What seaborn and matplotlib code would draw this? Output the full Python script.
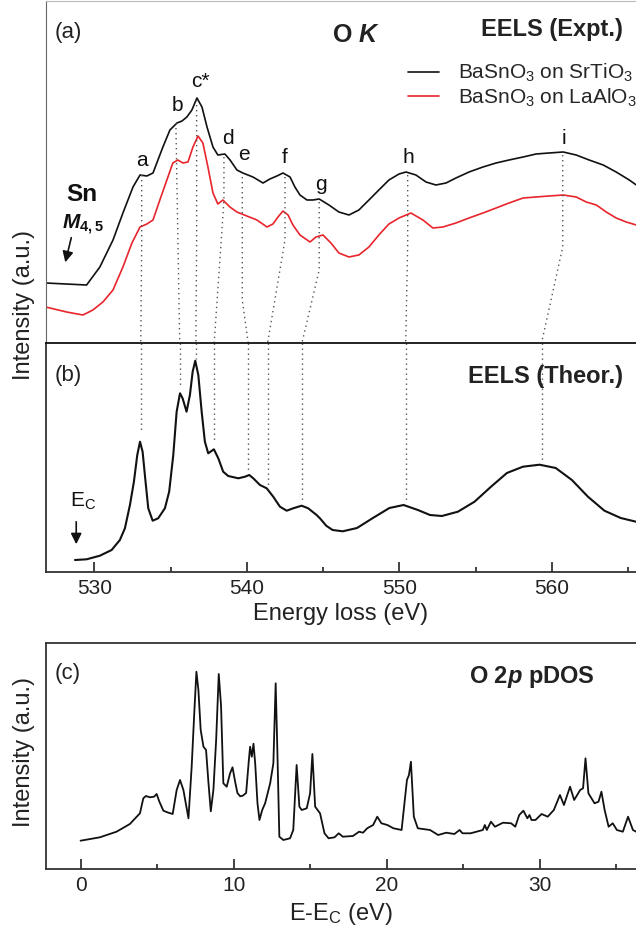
import matplotlib
matplotlib.use("Agg")
import matplotlib.pyplot as plt
import seaborn as sns

# ---- experimental O K edge (panel a), energy loss in eV vs. intensity (a.u.)
expt_E = [526.82, 528.15, 529.50, 530.37, 531.23, 531.88, 532.54, 533.0, 533.45, 533.85,
          534.5, 534.96, 535.42, 535.75, 536.07, 536.4, 536.73, 537.06, 537.39, 537.78,
          538.1, 538.56, 538.9, 539.35, 539.74, 540.4, 541.06, 541.51, 541.97, 542.37,
          542.83, 543.15, 543.48, 543.94, 544.33, 544.74, 545.38, 546.03, 546.69, 547.34,
          548.0, 548.65, 549.31, 549.97, 550.43, 551.08, 551.74, 552.39, 553.05, 553.7,
          554.56, 555.47, 556.33, 557.18, 558.1, 558.95, 559.8, 560.73, 561.58, 562.43,
          563.35, 564.2, 565.06, 565.52]
sto_I = [60, 59, 58, 76, 103, 130, 156, 168, 167, 170,
         196, 213, 220, 222, 226, 233, 245, 236, 216, 196,
         188, 189, 183, 173, 170, 166, 160, 164, 167, 170,
         166, 156, 148, 143, 143, 144, 138, 131, 128, 133,
         143, 153, 163, 169, 171, 168, 161, 158, 160, 165,
         171, 176, 180, 183, 186, 189, 190, 191, 188, 183,
         178, 171, 163, 158]

lao_E = [526.82, 528.19, 529.26, 529.91, 530.57, 531.23, 531.88, 532.47, 533.0, 533.45,
         533.85, 534.3, 534.76, 535.15, 535.48, 535.81, 536.14, 536.47, 536.8, 537.12,
         537.45, 537.78, 538.1, 538.43, 538.89, 539.35, 540.0, 540.66, 541.32, 541.71,
         542.04, 542.37, 542.7, 543.02, 543.48, 544.14, 544.53, 544.99, 545.51, 546.03,
         546.69, 547.34, 548.0, 548.65, 549.31, 549.97, 550.75, 551.54, 552.19, 552.85,
         553.7, 554.56, 555.47, 556.33, 557.18, 558.1, 558.95, 559.8, 560.73, 561.58,
         562.24, 562.9, 563.55, 564.2, 564.86, 565.52]
lao_I = [36, 31, 28, 33, 41, 53, 76, 100, 116, 119,
         123, 143, 163, 180, 183, 180, 181, 196, 207, 200,
         176, 150, 139, 143, 136, 131, 127, 123, 116, 119,
         126, 132, 128, 118, 108, 101, 106, 108, 100, 90,
         86, 88, 96, 108, 119, 125, 130, 123, 115, 116,
         120, 125, 130, 135, 140, 145, 146, 147, 148, 146,
         141, 138, 131, 125, 121, 118]

# ---- calculated EELS (panel b)
theo_E = [528.74, 529.5, 530.37, 531.14, 531.68, 532.01, 532.34, 532.6, 532.82, 533.0,
          533.17, 533.34, 533.54, 533.83, 534.19, 534.63, 534.91, 535.18, 535.4, 535.62,
          535.79, 536.05, 536.27, 536.45, 536.62, 536.82, 537.04, 537.25, 537.47, 537.84,
          538.13, 538.45, 538.78, 539.44, 539.88, 540.16, 540.42, 540.86, 541.3, 541.73,
          542.17, 542.61, 543.04, 543.59, 544.02, 544.57, 544.79, 545.2, 545.62, 546.28,
          547.22, 548.26, 549.34, 550.27, 551.21, 552.0, 552.78, 553.83, 554.92, 556.0,
          557.04, 558.09, 559.18, 560.24, 561.3, 562.35, 563.43, 564.5, 565.5]
theo_I = [11.7, 12.4, 16, 21.7, 31.7, 43.4, 66.7, 90, 116.7, 130,
          120, 93.4, 63.4, 51, 53.4, 63.4, 80, 116.7, 160, 178.4,
          173.4, 160, 176.7, 200, 211, 196.7, 160, 130, 118.4, 122.4,
          113.4, 100, 95.7, 93.4, 95, 96.7, 93.4, 86.7, 83.4, 75,
          65, 61, 63.4, 66, 63.4, 56.7, 53.4, 46, 41.7, 40.4,
          43.7, 53.7, 63.7, 66.7, 61.7, 56.7, 55.7, 60, 70, 85,
          98.7, 105, 107, 103.7, 91.7, 75, 61, 53.7, 50]

# ---- O 2p pDOS (panel c), E - E_C in eV
dos_E = [0.0, 1.26, 2.35, 3.22, 3.88, 4.1, 4.27, 4.53, 4.8, 4.97,
         5.15, 5.41, 5.74, 6.02, 6.28, 6.5, 6.72, 7.05, 7.26, 7.44,
         7.57, 7.7, 7.85, 8.03, 8.2, 8.36, 8.51, 8.68, 8.86, 9.03,
         9.18, 9.33, 9.55, 9.77, 9.93, 10.1, 10.25, 10.43, 10.6, 10.82,
         11.0, 11.08, 11.19, 11.3, 11.41, 11.56, 11.69, 11.87, 12.06, 12.39,
         12.6, 12.75, 12.86, 12.99, 13.25, 13.69, 13.9, 14.12, 14.3, 14.45,
         14.78, 15.0, 15.15, 15.33, 15.65, 15.94, 16.21, 16.6, 16.87, 17.14,
         17.8, 18.2, 18.46, 18.73, 19.12, 19.39, 19.66, 20.05, 20.45, 20.98,
         21.33, 21.46, 21.59, 21.78, 22.04, 22.84, 23.37, 23.9, 24.43, 24.77,
         24.96, 25.49, 26.29, 26.42, 26.55, 26.82, 27.08, 27.61, 28.14, 28.41,
         28.67, 28.94, 29.2, 29.34, 29.47, 29.73, 30.13, 30.53, 30.93, 31.33,
         31.59, 31.99, 32.26, 32.65, 32.84, 33.0, 33.19, 33.59, 33.85, 34.04,
         34.25, 34.51, 34.78, 35.05, 35.44, 35.78, 36.1, 36.31]
dos_I = [28.3, 31.7, 37.3, 45, 55.7, 70.7, 73, 71.7, 72.3, 75,
         67.3, 58.3, 56.3, 55, 79, 89, 79, 50.7, 102.3, 159,
         197.3, 179, 139, 122.3, 119, 85.7, 57.7, 79, 129, 195,
         163.3, 85.7, 82.3, 95.7, 101.7, 87.3, 76, 72.7, 73.3, 76,
         109.3, 122.3, 112.3, 125.3, 106, 66, 49, 59, 65.7, 85.7,
         105.7, 185.7, 119, 32.3, 29, 30.7, 39, 104, 62.3, 59,
         60.7, 75.7, 115, 62.3, 55.7, 35.7, 30.7, 31.7, 35.7, 32.3,
         33, 37.3, 36.3, 40.7, 44, 52.3, 45.7, 44, 40.7, 39,
         89, 94, 107.3, 52.3, 40.7, 39, 34, 36.3, 35, 39,
         35.7, 35.7, 39, 44, 39, 47.3, 42.3, 46.3, 45.7, 42.3,
         54, 58.3, 50.7, 54, 49, 49, 55, 52.3, 59, 74,
         64, 82.3, 69, 79, 80.7, 110.7, 75.7, 65.7, 67.3, 77.3,
         59, 42.3, 45.7, 39, 37.3, 52.3, 39, 37.3]

# ---- peak labels and guide lines between experiment and theory
peak_names = ["a", "b", "c*", "d", "e", "f", "g", "h", "i"]
label_E = [533.13, 535.43, 536.93, 538.73, 539.78, 542.5, 544.85, 550.58, 560.77]
label_I = [177, 232, 256, 199, 183, 180, 153, 180, 199]
guide_expt_E = [533.11, 535.35, 536.71, 538.5, 539.7, 542.5, 544.74, 550.54, 560.7]
guide_theo_E = [533.05, 535.6, 536.66, 537.86, 540.09, 541.36, 543.61, 550.41, 559.31]
guide_top_I = [168, 220, 243, 186, 166, 166, 141, 168, 188]
guide_bend_I = [100, 220, 100, 143, 43, 103, 73, 100, 96]
guide_theo_I = [138.7, 183.7, 213, 130, 98.7, 85, 70, 68.7, 108.4]

sns.set_style("ticks")
plt.rcParams["font.family"] = ["Liberation Sans", "DejaVu Sans"]
plt.rcParams["mathtext.fontset"] = "custom"
plt.rcParams["mathtext.rm"] = "Liberation Sans"
plt.rcParams["mathtext.it"] = "Liberation Sans:italic:bold"
plt.rcParams["mathtext.bf"] = "Liberation Sans:bold"

W, H = 636, 938
fig = plt.figure(figsize=(W / 100, H / 100), dpi=100)
L = 45.7 / W
AW = 1 - L
ax_a = fig.add_axes([L, 1 - 343 / H, AW, 342 / H])
ax_b = fig.add_axes([L, 1 - 571.7 / H, AW, 228.7 / H], sharex=ax_a)
ax_c = fig.add_axes([L, 1 - 869 / H, AW, 226.3 / H])

red = "#e8252c"
sns.lineplot(x=expt_E, y=sto_I, ax=ax_a, color="#111111", lw=1.2, sort=False,
             estimator=None, label=r"BaSnO$_\mathrm{3}$ on SrTiO$_\mathrm{3}$")
sns.lineplot(x=lao_E, y=lao_I, ax=ax_a, color=red, lw=1.2, sort=False,
             estimator=None, label=r"BaSnO$_\mathrm{3}$ on LaAlO$_\mathrm{3}$")
sns.lineplot(x=theo_E, y=theo_I, ax=ax_b, color="#111111", lw=1.5, sort=False, estimator=None)
sns.lineplot(x=dos_E, y=dos_I, ax=ax_c, color="#111111", lw=1.3, sort=False, estimator=None)

ax_a.set_xlim(526.82, 565.5)
ax_a.set_ylim(0, 342)
ax_b.set_ylim(0, 228.7)
ax_c.set_xlim(-2.28, 36.3)
ax_c.set_ylim(0, 226.3)

# dotted guides
dot = dict(color="#555555", lw=1.0, linestyle=(0, (1, 2.6)))
for xe, xt, yt, yb, ye in zip(guide_expt_E, guide_theo_E, guide_top_I, guide_bend_I, guide_theo_I):
    ax_a.plot([xe, xe, xt], [yt, yb, 0], **dot)
    ax_b.plot([xt, xt], [228.7, ye], **dot)

for name, x, y in zip(peak_names, label_E, label_I):
    ax_a.text(x, y, name, ha="center", va="baseline", fontsize=15, color="#111111")

# spines and ticks
for ax in (ax_a, ax_b, ax_c):
    ax.spines["right"].set_visible(False)
    ax.set_yticks([])
    ax.set_ylabel("")
    ax.set_xlabel("")
ax_a.spines["bottom"].set_visible(False)
ax_a.spines["top"].set_color("#bbbbbb")
ax_a.spines["left"].set_color("#666666")
ax_a.tick_params(axis="x", bottom=False, labelbottom=False)
ax_b.spines["top"].set_color("#111111")
ax_b.spines["top"].set_linewidth(1.3)
for sp in ("left", "bottom"):
    ax_b.spines[sp].set_color("#333333")
    ax_b.spines[sp].set_linewidth(1.3)
for sp in ("left", "bottom", "top"):
    ax_c.spines[sp].set_color("#333333")
    ax_c.spines[sp].set_linewidth(1.3)

ax_b.set_xticks([530, 540, 550, 560])
ax_b.set_xticks([535, 545, 555, 565], minor=True)
ax_c.set_xticks([0, 10, 20, 30])
ax_c.set_xticks([5, 15, 25, 35], minor=True)
for ax in (ax_b, ax_c):
    ax.tick_params(axis="x", which="major", direction="in", length=7.2, width=1.2,
                   labelsize=15, pad=5, colors="#222222")
    ax.tick_params(axis="x", which="minor", direction="in", length=3.6, width=1.2,
                   colors="#222222")

ax_b.set_xlabel("Energy loss (eV)", fontsize=17, labelpad=4, color="#222222")
ax_c.set_xlabel(r"E-E$_\mathrm{C}$ (eV)", fontsize=17, labelpad=4, color="#222222")
fig.text(24 / W, 1 - 305 / H, "Intensity (a.u.)", rotation=90, ha="center", va="center",
         fontsize=17, color="#222222")
fig.text(24 / W, 1 - 752 / H, "Intensity (a.u.)", rotation=90, ha="center", va="center",
         fontsize=17, color="#222222")

# panel titles
ax_a.text(0.0158, 0.892, "(a)", transform=ax_a.transAxes, fontsize=16, color="#222222")
ax_a.text(0.526, 0.881, r"O $K$", transform=ax_a.transAxes, fontsize=18,
          fontweight="bold", ha="center", color="#222222")
ax_a.text(0.978, 0.898, "EELS (Expt.)", transform=ax_a.transAxes, fontsize=17,
          fontweight="bold", ha="right", color="#222222")
ax_b.text(0.0158, 0.856, "(b)", transform=ax_b.transAxes, fontsize=16, va="center",
          color="#222222")
ax_b.text(0.9787, 0.824, "EELS (Theor.)", transform=ax_b.transAxes, fontsize=17,
          fontweight="bold", ha="right", color="#222222")
ax_c.text(0.0158, 0.863, "(c)", transform=ax_c.transAxes, fontsize=16, va="center",
          color="#222222")
ax_c.text(0.931, 0.824, r"O 2$p$ pDOS", transform=ax_c.transAxes, fontsize=17,
          fontweight="bold", ha="right", color="#222222")

# Sn M4,5 marker and E_C marker
ax_a.text(529.2, 142, "Sn", fontsize=17.5, fontweight="bold", ha="center", color="#111111")
ax_a.text(529.25, 113.7, r"$M_{\mathbf{4,5}}$", fontsize=15, ha="center", color="#111111")
ax_a.annotate("", xy=(528.06, 78), xytext=(528.54, 108),
              arrowprops=dict(arrowstyle="-|>", color="#111111", lw=1.2, mutation_scale=16))
ax_b.text(528.4, 64.7, r"E$_\mathrm{C}$", fontsize=15, ha="left", color="#111111")
ax_b.annotate("", xy=(528.82, 24.7), xytext=(528.82, 52.7),
              arrowprops=dict(arrowstyle="-|>", color="#111111", lw=1.2, mutation_scale=16))

ax_a.legend(loc="upper left", bbox_to_anchor=(0.614, 0.822), frameon=False, fontsize=15,
            handlelength=1.5, handletextpad=0.9, borderpad=0, borderaxespad=0,
            labelspacing=0.1)

fig.savefig("out.png", dpi=100)
